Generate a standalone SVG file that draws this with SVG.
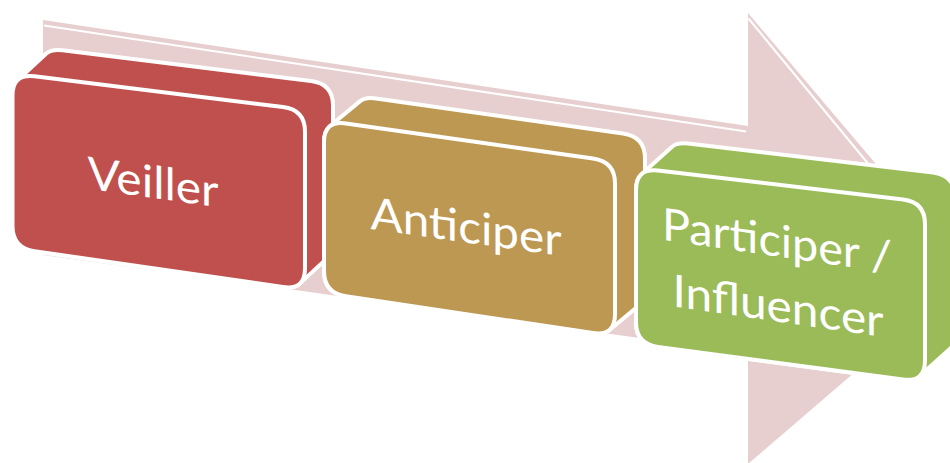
<svg xmlns="http://www.w3.org/2000/svg" width="950" height="463" viewBox="0 0 950 463">
  <style>
    .flow { fill: #e7cfd0; }
    .flow-edge { fill: none; stroke: #ffffff; stroke-width: 2; }
    .shell, .face { stroke: #ffffff; stroke-width: 4; stroke-linejoin: round; }
    .red { fill: #c0504d; }
    .gold { fill: #bd9853; }
    .green { fill: #9bbb59; }
    .label { fill: #ffffff; font-family: Lato, "Open Sans", "Liberation Sans", sans-serif; font-size: 45px; text-anchor: middle; }
  </style>

  <!-- Large perspective arrow behind the steps -->
  <g id="connectors">
    <path class="flow" d="M43,20 L748,126 L748,13 L969,274 L748,464 L748,353 L43,255 Z"/>
    <polyline class="flow-edge" points="44,25.5 746,131.5"/>
    <polyline class="flow-edge" points="748.5,18.5 880,178"/>
  </g>

  <!-- Step 1 -->
  <g id="veiller">
    <path class="shell red" d="M12.5,226 L12.5,95.5 Q12.5,84.5 18,79.7 L46,53.7 Q51.5,48.85 62.5,50.2 L311,81 Q333,83.7 333,105.7 L333,242.2 Q333,253.2 327.5,257.9 L299.5,283.9 Q294,288.6 283,287 L34.5,251.2 Q12.5,248 12.5,226 Z"/>
    <path class="face red" d="M12.5,226 L12.5,95.5 Q12.5,73.5 34.5,76.2 L283,107 Q305,109.7 305,131.7 L305,268.2 Q305,290.2 283,287 L34.5,251.2 Q12.5,248 12.5,226 Z"/>
    <g transform="translate(153,198) skewY(8)">
      <text class="label" x="0" y="0" textLength="131" lengthAdjust="spacingAndGlyphs">Veiller</text>
    </g>
  </g>

  <!-- Step 2 -->
  <g id="anticiper">
    <path class="shell gold" d="M324,271 L324,142.3 Q324,131.3 329.5,126.6 L359.5,101.6 Q365,96.85 376,98.4 L623,133.5 Q645,136.6 645,158.6 L645,289.3 Q645,300.3 639.5,305 L609.5,330 Q604,334.65 593,333 L346,296.3 Q324,293 324,271 Z"/>
    <path class="face gold" d="M324,271 L324,142.3 Q324,120.3 346,123.4 L593,158.5 Q615,161.6 615,183.6 L615,314.3 Q615,336.3 593,333 L346,296.3 Q324,293 324,271 Z"/>
    <g transform="translate(466,242.5) skewY(8)">
      <text class="label" x="0" y="0" textLength="191" lengthAdjust="spacingAndGlyphs">Anticiper</text>
    </g>
  </g>

  <!-- Step 3 -->
  <g id="participer">
    <path class="shell green" d="M636,322 L636,190 Q636,179 641.5,174.15 L671.5,147.15 Q677,142.3 688,143.6 L933,172.4 Q955,175 955,197 L955,333.4 Q955,344.4 949.5,349.2 L919.5,376.2 Q914,380.95 903,379.5 L658,346.9 Q636,344 636,322 Z"/>
    <path class="face green" d="M636,322 L636,190 Q636,168 658,170.6 L903,199.4 Q925,202 925,224 L925,360.4 Q925,382.4 903,379.5 L658,346.9 Q636,344 636,322 Z"/>
    <g transform="translate(777,256.5) skewY(8.3)">
      <text class="label" x="0" y="0" textLength="230" lengthAdjust="spacingAndGlyphs">Participer /</text>
      <text class="label" x="1" y="65" textLength="211" lengthAdjust="spacingAndGlyphs">Influencer</text>
    </g>
  </g>
</svg>
